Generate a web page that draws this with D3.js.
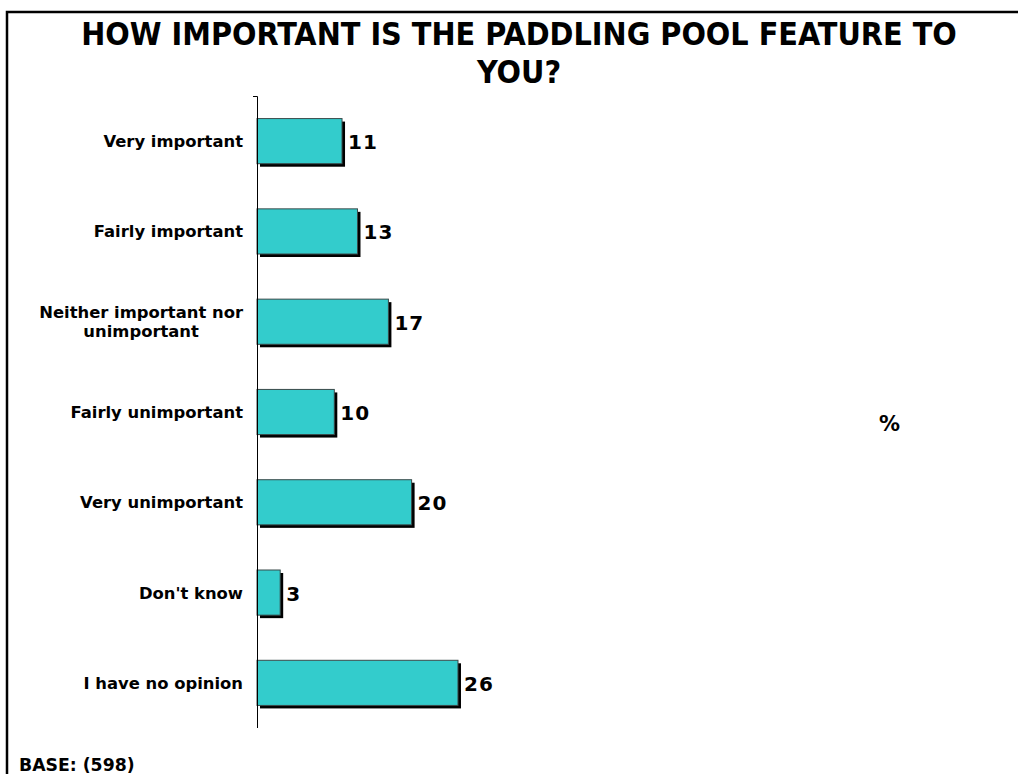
<!DOCTYPE html>
<html><head><meta charset="utf-8">
<script src="https://cdn.jsdelivr.net/npm/d3@7"></script>
<style>html,body{margin:0;padding:0;background:#fff;}svg{display:block;}</style>
</head><body>
<script>
const categories = ["Very important","Fairly important","Neither important nor unimportant","Fairly unimportant","Very unimportant","Don't know","I have no opinion"];
const labelLines = [["Very important"],["Fairly important"],["Neither important nor","unimportant"],["Fairly unimportant"],["Very unimportant"],["Don't know"],["I have no opinion"]];
const values = [11,13,17,10,20,3,26];
const titleLines = ["HOW IMPORTANT IS THE PADDLING POOL FEATURE TO","YOU?"];
const baseText = "BASE: (598)";
const unitText = "%";

const W = 1018, H = 774;
const svg = d3.select("body").append("svg").attr("width", W).attr("height", H);

// frame
svg.append("path").attr("d", `M7,${H} V12 H${W}`).attr("fill","none").attr("stroke","#000").attr("stroke-width",2.5);

// title
svg.append("text").attr("x", 519).attr("y", 45).attr("text-anchor","middle")
  .style("font-family","'DejaVu Sans Condensed','DejaVu Sans',sans-serif").style("font-weight","bold").style("font-size","32px")
  .selectAll("tspan").data(titleLines).join("tspan").attr("x",519).attr("dy",(d,i)=>i?38:0).text(d=>d);

const x = d3.scaleLinear().domain([0,100]).range([257, 257+773]);
const y = d3.scaleBand().domain(categories).range([96,728]).paddingInner(0.5).paddingOuter(0.25);

// shadows
svg.append("g").selectAll("rect").data(values).join("rect")
  .attr("x", x(0)+3).attr("y",(d,i)=>y(categories[i])+3)
  .attr("width", d=>x(d)-x(0)).attr("height", y.bandwidth()).attr("fill","#000");
// bars
svg.append("g").selectAll("rect").data(values).join("rect")
  .attr("x", x(0)).attr("y",(d,i)=>y(categories[i]))
  .attr("width", d=>x(d)-x(0)).attr("height", y.bandwidth())
  .attr("fill","#33CCCC").attr("stroke","#3a4a4a").attr("stroke-width",1);

// axis
const axis = d3.axisLeft(y).tickSize(0).tickFormat("");
const ag = svg.append("g").attr("transform",`translate(${x(0)},0)`).call(axis);
ag.select(".domain").attr("stroke","#000").attr("d","M-4,96.5H0.5V728");

// category labels
const lab = svg.append("g").style("font-family","'DejaVu Sans',Verdana,sans-serif").style("font-weight","bold").style("font-size","16.4px");
labelLines.forEach((lines,i)=>{
  const cy = y(categories[i]) + y.bandwidth()/2;
  if (lines.length === 1) {
    lab.append("text").attr("text-anchor","end").attr("x",243).attr("y", cy + 6).text(lines[0]);
  } else {
    const t1 = lab.append("text").attr("text-anchor","end").attr("x",243).attr("y", cy - 4).text(lines[0]);
    const w = t1.node().getComputedTextLength();
    lab.append("text").attr("text-anchor","middle").attr("x",243 - w/2).attr("y", cy + 15).text(lines[1]);
  }
});

// value labels
svg.append("g").selectAll("text").data(values).join("text")
  .attr("x", d=>x(d)+6).attr("y",(d,i)=>y(categories[i])+y.bandwidth()/2+8)
  .style("font-family","'DejaVu Sans',Verdana,sans-serif").style("font-weight","bold").style("font-size","20px")
  .style("letter-spacing","1px").text(d=>d);

svg.append("text").attr("x",879).attr("y",431).style("font-family","'DejaVu Sans',Verdana,sans-serif").style("font-weight","bold").style("font-size","21px").text(unitText);
svg.append("text").attr("x",19).attr("y",771).style("font-family","'DejaVu Sans',Verdana,sans-serif").style("font-weight","bold").style("font-size","17.3px").text(baseText);
</script>
</body></html>
